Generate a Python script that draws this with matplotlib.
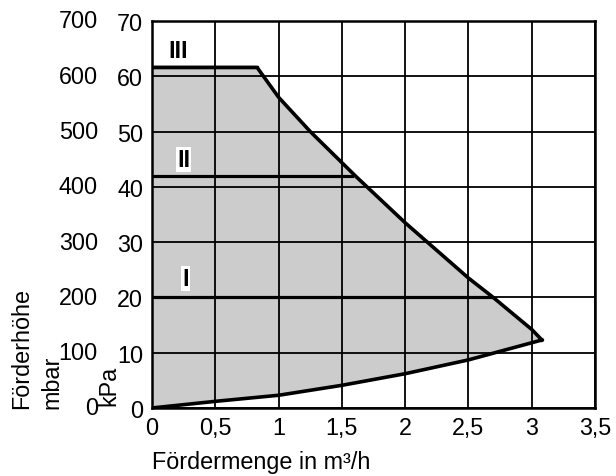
import numpy as np
import matplotlib.pyplot as plt
from matplotlib.transforms import blended_transform_factory

plt.rcParams['font.family'] = ['Liberation Sans', 'DejaVu Sans']

# Kennlinie (obere Grenze) in m³/h und kPa
upper_x = [0.0, 0.83, 1.0, 1.25, 1.61, 2.0, 2.5, 2.69, 3.0, 3.08]
upper_y = [61.6, 61.6, 56.2, 50.0, 41.9, 33.5, 23.5, 20.1, 14.2, 12.3]
# untere Grenze
lower_x = [0.0, 0.5, 1.0, 1.5, 2.0, 2.5, 3.0, 3.08]
lower_y = [0.0, 1.2, 2.3, 4.1, 6.2, 8.7, 11.8, 12.3]
# Stufen I, II, III
stage_names = ['I', 'II', 'III']
stage_y = [20.1, 41.9, 61.6]
stage_end = [2.68, 1.58, 0.83]
stage_label_x = [0.264, 0.25, 0.206]
stage_label_y = [23.4, 44.9, 64.7]

kpa_ticks = [0, 10, 20, 30, 40, 50, 60, 70]
mbar_labels = ['0', '100', '200', '300', '400', '500', '600', '700']
x_ticks = [0, 0.5, 1, 1.5, 2, 2.5, 3, 3.5]
x_labels = ['0', '0,5', '1', '1,5', '2', '2,5', '3', '3,5']

fs = 16.8
fig = plt.figure(figsize=(6.16, 4.77), dpi=100)
ax = fig.add_axes([0.2468, 0.1426, 0.7192, 0.8113])

poly_x = upper_x + lower_x[::-1]
poly_y = upper_y + lower_y[::-1]
ax.fill(poly_x, poly_y, color='#cccccc', zorder=1, lw=0)

ax.set_xlim(0, 3.5)
ax.set_ylim(0, 70)
ax.set_xticks(x_ticks)
ax.set_xticklabels(x_labels, fontsize=fs)
ax.set_yticks(kpa_ticks)
ax.set_yticklabels([str(v) for v in kpa_ticks], fontsize=fs)
ax.tick_params(axis='y', length=0, pad=6.5)
ax.tick_params(axis='x', length=0, pad=6)
ax.grid(True, color='black', lw=1.3, zorder=2)
for s in ax.spines.values():
    s.set_linewidth(1.8)
    s.set_zorder(5)

ax.plot(upper_x, upper_y, color='black', lw=2.6, zorder=4)
ax.plot(lower_x, lower_y, color='black', lw=2.6, zorder=4)
for name, y, xe, lx, ly in zip(stage_names, stage_y, stage_end, stage_label_x, stage_label_y):
    ax.plot([0, xe], [y, y], color='black', lw=2.3, zorder=4)
    ax.text(lx, ly, name, fontsize=fs, fontweight='bold', ha='center', va='center', zorder=6,
            bbox=dict(facecolor='white', edgecolor='none', pad=0.8))

# mbar-Beschriftung als zweite Spalte
trans = blended_transform_factory(fig.transFigure, ax.transData)
for v, lab in zip(kpa_ticks, mbar_labels):
    ax.text(98 / 616, v, lab, transform=trans, fontsize=fs, ha='right', va='center', clip_on=False)

fig.text(22 / 616, (477 - 409) / 477, 'Förderhöhe', rotation=90, fontsize=fs, ha='center', va='bottom')
fig.text(52 / 616, (477 - 409) / 477, 'mbar', rotation=90, fontsize=fs, ha='center', va='bottom')
fig.text(109 / 616, (477 - 406) / 477, 'kPa', rotation=90, fontsize=fs, ha='center', va='bottom')

fig.text(152 / 616, (477 - 463) / 477, 'Fördermenge in m³/h', fontsize=fs, ha='left', va='center')

fig.savefig('out.png', dpi=100)
